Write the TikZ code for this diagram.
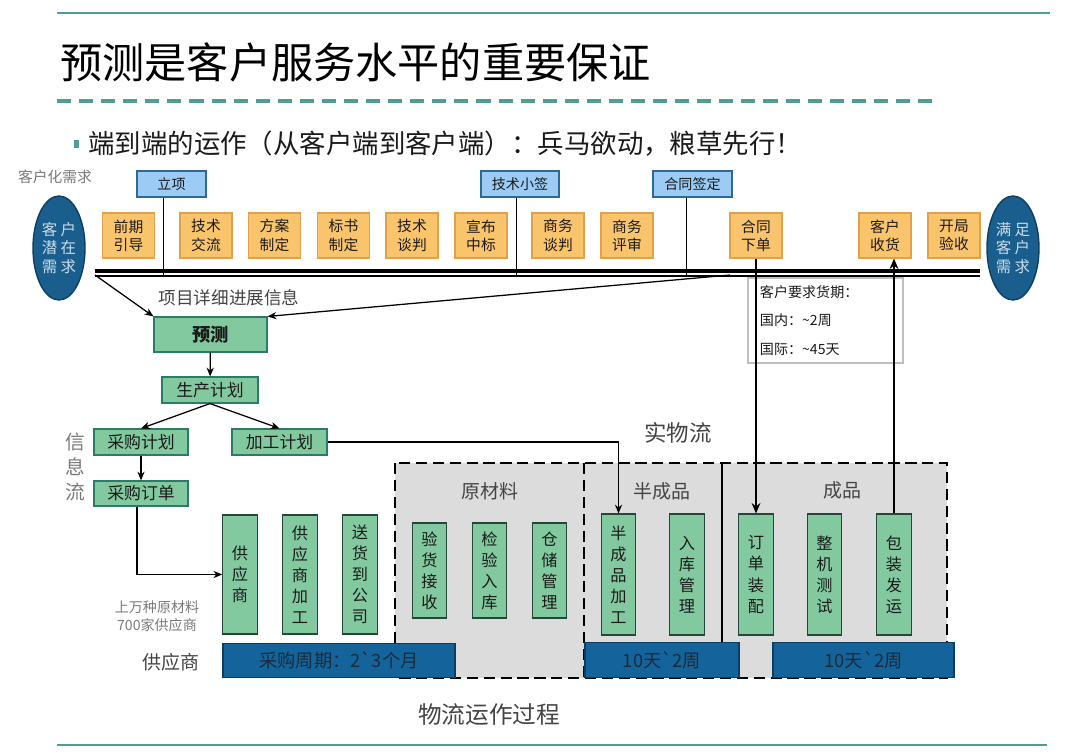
\documentclass[tikz,border=0pt]{standalone}
\usepackage{fontspec}
\setmainfont{Noto Sans CJK SC}
\usetikzlibrary{arrows.meta,positioning,shapes.geometric,backgrounds}
\definecolor{ink}{HTML}{1A1A1A}
\definecolor{inkSoft}{HTML}{444444}
\definecolor{inkGray}{HTML}{7A7A7A}
\definecolor{rule}{HTML}{4E9E94}
\definecolor{stageLine}{HTML}{E3A04C}
\definecolor{stageFill}{HTML}{FAC46C}
\definecolor{msLine}{HTML}{2F6A94}
\definecolor{msFill}{HTML}{9CCCF6}
\definecolor{endLine}{HTML}{0F3F63}
\definecolor{endFill}{HTML}{1A5E8E}
\definecolor{endText}{HTML}{C9DCEA}
\definecolor{planLine}{HTML}{2D7A68}
\definecolor{planFill}{HTML}{82C9A0}
\definecolor{opLine}{HTML}{25473A}
\definecolor{barLine}{HTML}{0B3E63}
\definecolor{barFill}{HTML}{14649B}
\definecolor{barText}{HTML}{1C2B3C}
\definecolor{zoneFill}{HTML}{DCDCDC}
\newcommand{\fsz}[2]{\fontsize{#1}{#2}\selectfont}
\newcommand{\gap}{\hspace{0.2em}}
\tikzset{
  every node/.append style = {text=ink},
  >=Stealth,
  % --- process stages and milestones ------------------------------------
  stagebox/.style  = {draw=stageLine, fill=stageFill, line width=0.8pt,
                      minimum width=1.3cm, minimum height=1.125cm,
                      inner sep=0pt, align=center, font=\fsz{10.5}{13}},
  msbox/.style     = {draw=msLine, fill=msFill, line width=0.8pt,
                      minimum height=0.65cm, inner sep=0pt, font=\fsz{10}{12}},
  endnode/.style   = {ellipse, draw=endLine, fill=endFill, line width=1pt,
                      minimum width=1.3cm, minimum height=2.6cm, inner sep=0pt,
                      align=center, text=endText, font=\fsz{11}{13.4}},
  % --- information flow ---------------------------------------------------
  planbox/.style   = {draw=planLine, fill=planFill, line width=0.8pt,
                      minimum height=0.65cm, inner sep=0pt, font=\fsz{12}{14}},
  % --- physical flow ------------------------------------------------------
  opbox/.style     = {draw=opLine, fill=planFill, line width=0.8pt,
                      minimum width=0.86cm, inner sep=0pt, align=center,
                      font=\fsz{11.5}{15}},
  cyclebar/.style  = {draw=barLine, fill=barFill, line width=0.8pt,
                      minimum height=0.86cm, inner sep=0pt, text=barText,
                      font=\fsz{13}{15}},
  zone/.style      = {fill=zoneFill, draw=black, line width=1.3pt,
                      dash pattern=on 8pt off 4pt},
  % --- relations ----------------------------------------------------------
  link/.style      = {draw=black, line width=0.7pt},
  flow/.style      = {draw=black, line width=0.9pt,
                      -{Stealth[length=2.2mm,width=1.8mm]}},
  boldflow/.style  = {draw=black, line width=1.4pt,
                      -{Stealth[length=2.6mm,width=2.2mm]}},
  % --- labels -------------------------------------------------------------
  lbl/.style       = {inner sep=0pt, text=inkSoft},
}

\begin{document}
\begin{tikzpicture}[x=0.025cm, y=-0.025cm]
\useasboundingbox (0,0) rectangle (1080,751);

% ------------------------------- header ------------------------------------
\draw[rule, line width=1.5pt] (57,13) -- (1050,13);
\node[lbl, anchor=west, text=black, font=\fsz{30}{34}] (title) at (60,62)
     {预测是客户服务水平的重要保证};
\draw[rule, line width=2.8pt, dash pattern=on 10pt off 5.7pt] (57,101) -- (935,101);
\fill[rule] (74,140) rectangle (79,148);
\node[lbl, anchor=west, text=ink, font=\fsz{18.8}{22}] (motto) at (88,144)
     {端到端的运作（从客户端到客户端）：兵马欲动，粮草先行！};
\draw[rule, line width=1.5pt] (57,745) -- (1047,745);

% ----------------------------- end to end ----------------------------------
\node[lbl, text=inkGray, font=\fsz{10.5}{12}] (custlbl) at (55,177) {客户化需求};
\node[endnode] (need) at (59,248) {客\gap 户\\潜\gap 在\\需\gap 求};
\node[endnode] (done) at (1013,248) {满\gap 足\\客\gap 户\\需\gap 求};

\node[msbox, minimum width=1.725cm] (kickoff)  at (171.5,184) {立项};
\node[msbox, minimum width=1.95cm]  (techsign) at (520,184)   {技术小签};
\node[msbox, minimum width=1.975cm] (contract) at (692.5,184) {合同签定};

\node[stagebox] (guide)   at (128.5,235.5) {前期\\引导};
\node[stagebox] (techex)  at (206,235.5)   {技术\\交流};
\node[stagebox] (scheme)  at (274.5,235.5) {方案\\制定};
\node[stagebox] (tender)  at (343.5,235.5) {标书\\制定};
\node[stagebox] (techneg) at (412,235.5)   {技术\\谈判};
\node[stagebox] (win)     at (481,235.5)   {宣布\\中标};
\node[stagebox] (bizneg)  at (558,235.5)   {商务\\谈判};
\node[stagebox] (bizrev)  at (627,235.5)   {商务\\评审};
\node[stagebox] (order)   at (756,235.5)   {合同\\下单};
\node[stagebox] (recv)    at (885,235.5)   {客户\\收货};
\node[stagebox] (accept)  at (954,235.5)   {开局\\验收};

% timeline bar
\draw[line width=2.2pt] (95,271) -- (980,271);
\draw[line width=1.2pt] (95,276) -- (980,276);
\coordinate (barL) at (95,275);
\coordinate (barM) at (730,275);

\draw[link] ([xshift=-0.21cm]kickoff.south)  -- ([xshift=-0.21cm]kickoff.south |- barL);
\draw[link] ([xshift=-0.1cm]techsign.south)  -- ([xshift=-0.1cm]techsign.south |- barL);
\draw[link] ([xshift=-0.14cm]contract.south) -- ([xshift=-0.14cm]contract.south |- barL);

\node[draw=black!25, line width=0.8pt, minimum width=3.875cm, minimum height=2.125cm,
      text width=3.275cm, align=left, inner xsep=0.3cm, font=\fsz{10}{20.3}]
     (lead) at (825.5,320.5) {客户要求货期：\\国内：\textasciitilde2周\\国际：\textasciitilde45天};

% -------------------------- information flow -------------------------------
\node[lbl, font=\fsz{12.5}{14}] (progress) at (229,298) {项目详细进展信息};
\node[planbox, minimum width=2.825cm, minimum height=0.875cm, font=\fsz{13}{15}\bfseries]
     (forecast) at (210.5,334.5) {预测};
\node[planbox, minimum width=2.4cm]   (prodplan) at (210,390)   {生产计划};
\node[planbox, minimum width=2.35cm]  (buyplan)  at (141,442)   {采购计划};
\node[planbox, minimum width=2.375cm] (makeplan) at (279.5,442) {加工计划};
\node[planbox, minimum width=2.35cm, minimum height=0.625cm]
     (buyorder) at (141,493.5) {采购订单};
\node[lbl, text=inkGray, align=center, font=\fsz{14}{17.8}] (infoflow) at (75,467)
     {信\\息\\流};

% ---------------------------- physical flow --------------------------------
\begin{scope}[on background layer]
  \draw[zone] (395,463) rectangle (947,678);
  \draw[black, line width=1.3pt, dash pattern=on 8pt off 4pt] (584,463) -- (584,678);
  \draw[black, line width=0.8pt] (722,463) -- (722,643);
\end{scope}
\node[lbl, font=\fsz{16}{18}]   (physflow) at (678,433) {实物流};
\node[lbl, font=\fsz{13.5}{16}] (rawlbl)   at (490,491) {原材料};
\node[lbl, font=\fsz{13.5}{16}] (semilbl)  at (662,491) {半成品};
\node[lbl, font=\fsz{13.5}{16}] (donelbl)  at (842,490) {成品};

\node[opbox, minimum height=2.975cm] (supplier) at (240,574.5) {供\\应\\商};
\node[opbox, minimum height=2.975cm] (subwork)  at (300,574.5) {供\\应\\商\\加\\工};
\node[opbox, minimum height=2.975cm] (deliver)  at (360,574.5) {送\\货\\到\\公\\司};
\node[opbox, minimum height=2.375cm] (receive)  at (429.5,570.5) {验\\货\\接\\收};
\node[opbox, minimum height=2.375cm] (inspect)  at (489.5,570.5) {检\\验\\入\\库};
\node[opbox, minimum height=2.375cm] (store)    at (549.5,570.5) {仓\\储\\管\\理};
\node[opbox, minimum height=3.025cm] (semimake) at (618.5,574.5) {半\\成\\品\\加\\工};
\node[opbox, minimum height=3.025cm] (semistore) at (687,574.5)  {入\\库\\管\\理};
\node[opbox, minimum height=3.025cm] (assemble) at (756,574.5) {订\\单\\装\\配};
\node[opbox, minimum height=3.025cm] (test)     at (824.5,574.5) {整\\机\\测\\试};
\node[opbox, minimum height=3.025cm] (ship)     at (894,574.5) {包\\装\\发\\运};

\node[cyclebar, minimum width=5.8cm]   (buycycle)  at (339,660.5)   {采购周期：2\textasciigrave 3个月};
\node[cyclebar, minimum width=3.85cm]  (semicycle) at (662,660)     {10天\textasciigrave 2周};
\node[cyclebar, minimum width=4.525cm] (donecycle) at (863.5,660)   {10天\textasciigrave 2周};

\node[lbl, text=inkGray, align=center, font=\fsz{10}{12.8}] (scale) at (157,616)
     {上万种原材料\\700家供应商};
\node[lbl, font=\fsz{13.5}{16}] (suplbl)  at (171,662) {供应商};
\node[lbl, font=\fsz{16.8}{19}] (caption) at (489,715) {物流运作过程};

% ------------------------------- flow --------------------------------------
\draw[flow] (barL) -- (forecast.north west);
\draw[flow] (barM) -- (forecast.north east);
\draw[flow] (forecast) -- (prodplan);
\foreach \a/\b in {prodplan/buyplan, prodplan/makeplan}{ \draw[flow] (\a.south) -- (\b.north); }
\draw[flow] (buyplan) -- (buyorder);
\draw[flow] ([xshift=-0.1cm]buyorder.south) |- (supplier.west);
\draw[flow] (makeplan.east) -| (semimake.north);
\draw[boldflow] (order.south) -- (assemble.north);
\draw[boldflow] (ship.north) -- (ship.north |- recv.south);

\end{tikzpicture}
\end{document}
